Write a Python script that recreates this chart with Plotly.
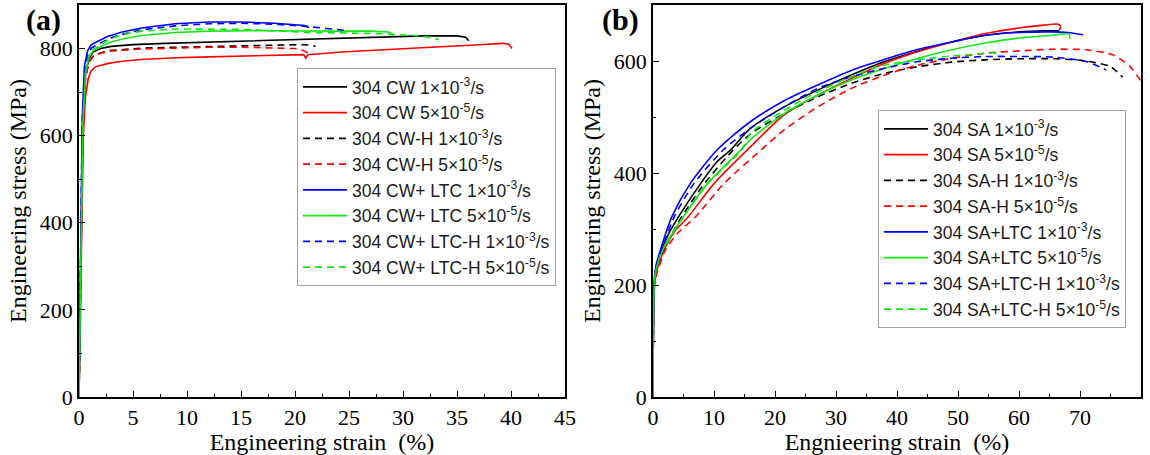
import plotly.graph_objects as go

# ---------------- Panel (a): cold-worked 304 ----------------
cw_1e3_x = [0, 0.35, 0.6, 0.9, 1.3, 2, 3, 5, 8, 12, 16, 20, 24, 28, 32, 35, 35.8, 36.1]
cw_1e3_y = [0, 620, 740, 775, 792, 800, 805, 809, 812, 815, 818, 821, 824, 827, 829, 829, 826, 818]

cw_5e5_x = [0, 0.4, 0.6, 0.85, 1.1, 1.5, 2.7, 4, 5.8, 9, 12, 15, 18.1, 20.8, 21.0, 21.2, 24.3, 27, 30.5, 33.5, 36.7, 39.3, 39.8, 40.1]
cw_5e5_y = [0, 600, 690, 730, 748, 758, 766, 771, 775, 779, 781, 783, 784, 786, 778, 786, 792, 796, 800, 804, 808, 812, 810, 800]

cwh_1e3_x = [0, 0.35, 0.6, 0.9, 1.3, 2, 2.7, 5.8, 9, 12, 15, 18.1, 20.5, 21.5, 21.9]
cwh_1e3_y = [0, 620, 730, 768, 782, 790, 795, 801, 803, 805, 807, 809, 809, 808, 805]

cwh_5e5_x = [0, 0.35, 0.6, 0.9, 1.3, 2, 2.7, 5.8, 9, 12, 15, 18.1, 20, 20.7, 21.2]
cwh_5e5_y = [0, 610, 728, 768, 782, 789, 794, 799, 801, 803, 803, 802, 800, 796, 790]

cwl_1e3_x = [0, 0.3, 0.5, 0.8, 1.1, 1.6, 2.7, 4, 5.8, 8.9, 12, 15, 18.1, 20, 20.9, 21.3]
cwl_1e3_y = [0, 640, 760, 795, 808, 815, 828, 838, 847, 857, 861, 861, 858, 855, 853, 848]

cwl_5e5_x = [0, 0.35, 0.6, 0.9, 1.3, 2, 2.7, 4, 5.8, 8.9, 12, 16, 20, 24, 27, 28.7, 29.0, 29.1]
cwl_5e5_y = [0, 630, 745, 780, 795, 805, 813, 822, 830, 837, 840, 841, 840, 840, 840, 838, 834, 828]

cwlh_1e3_x = [0, 0.3, 0.55, 0.85, 1.2, 1.8, 2.7, 4, 5.8, 8.9, 12, 15, 18, 21, 23, 24.5, 24.8]
cwlh_1e3_y = [0, 630, 755, 790, 802, 810, 822, 833, 843, 852, 857, 858, 856, 851, 846, 842, 838]

cwlh_5e5_x = [0, 0.35, 0.6, 0.9, 1.3, 2, 2.7, 4, 5.8, 8.9, 12, 15, 18, 21, 24, 28, 31, 32.8, 33.3]
cwlh_5e5_y = [0, 625, 745, 782, 797, 808, 820, 832, 840, 845, 845, 844, 841, 837, 836, 834, 830, 825, 820]

# ---------------- Panel (b): solution-annealed 304 ----------------
sa_1e3_x = [0, 0.2, 0.5, 1.4, 2.5, 4.2, 7.8, 10.5, 12.7, 16, 21.5, 27, 32.5, 38, 43.5, 49, 54.5, 60, 64, 66.6]
sa_1e3_y = [0, 200, 230, 262, 290, 322, 381, 420, 441, 480, 518, 548, 575, 599, 618, 634, 646, 652, 654, 654]

sa_5e5_x = [0, 0.2, 0.5, 1.8, 3.5, 5.8, 10, 16, 21.5, 27, 32.5, 38, 43.5, 49, 54.5, 60, 64, 66.3, 66.8, 66.6]
sa_5e5_y = [0, 195, 220, 262, 295, 322, 381, 447, 504, 539, 569, 596, 617, 634, 649, 659, 664, 666, 662, 655]

sah_1e3_x = [0, 0.2, 0.5, 1.5, 2.8, 4.5, 8, 12.7, 16, 21.5, 27, 32.5, 38, 43.5, 49, 54.5, 60, 66, 71, 75, 77]
sah_1e3_y = [0, 200, 228, 258, 285, 318, 375, 436, 470, 506, 536, 560, 578, 590, 598, 602, 604, 604, 600, 590, 571]

sah_5e5_x = [0, 0.2, 0.5, 2.0, 4, 7, 11.6, 17.7, 21.5, 27, 32.5, 38, 43.5, 49, 54.5, 60, 65.5, 71, 75.4, 78.2, 80.4]
sah_5e5_y = [0, 190, 215, 262, 292, 322, 381, 441, 477, 518, 551, 575, 593, 605, 614, 618, 621, 620, 611, 590, 557]

sal_1e3_x = [0, 0.2, 0.5, 1.2, 3.1, 6.1, 10.5, 16, 21.5, 27, 32.5, 38, 43.5, 49, 54.5, 60, 65.5, 68, 70.5]
sal_1e3_y = [0, 205, 235, 262, 322, 381, 441, 492, 529, 557, 583, 603, 621, 634, 646, 651, 652, 651, 647]

sal_5e5_x = [0, 0.2, 0.5, 1.5, 5, 8.9, 14.4, 16, 21.5, 27, 32.5, 38, 43.5, 49, 54.5, 60, 65.5, 68.2, 68.3]
sal_5e5_y = [0, 200, 228, 262, 322, 381, 441, 460, 506, 539, 566, 587, 605, 620, 632, 641, 646, 648, 640]

salh_1e3_x = [0, 0.2, 0.5, 1.3, 3.5, 6.7, 11.5, 16, 21.5, 27, 32.5, 38, 43.5, 49, 54.5, 60, 65.5, 71, 74.3]
salh_1e3_y = [0, 205, 232, 260, 322, 381, 441, 480, 518, 551, 572, 587, 599, 605, 608, 608, 607, 599, 584]

salh_5e5_x = [0, 0.2, 0.5, 1.5, 5, 9, 14.5, 16, 21.5, 27, 32.5, 38, 43.5, 49, 52.9, 55.5, 56.2, 56.3]
salh_5e5_y = [0, 200, 228, 260, 322, 381, 441, 471, 512, 545, 572, 593, 602, 609, 612, 615, 613, 607]

BLACK, RED, BLUE, GREEN = "#000000", "#ff0000", "#0000ff", "#14e614"
DASH = "7px,5px"

panel_a = [
    ("304 CW 1×10<sup>-3</sup>/s", cw_1e3_x, cw_1e3_y, BLACK, "solid"),
    ("304 CW 5×10<sup>-5</sup>/s", cw_5e5_x, cw_5e5_y, RED, "solid"),
    ("304 CW-H 1×10<sup>-3</sup>/s", cwh_1e3_x, cwh_1e3_y, BLACK, DASH),
    ("304 CW-H 5×10<sup>-5</sup>/s", cwh_5e5_x, cwh_5e5_y, RED, DASH),
    ("304 CW+ LTC 1×10<sup>-3</sup>/s", cwl_1e3_x, cwl_1e3_y, BLUE, "solid"),
    ("304 CW+ LTC 5×10<sup>-5</sup>/s", cwl_5e5_x, cwl_5e5_y, GREEN, "solid"),
    ("304 CW+ LTC-H 1×10<sup>-3</sup>/s", cwlh_1e3_x, cwlh_1e3_y, BLUE, DASH),
    ("304 CW+ LTC-H 5×10<sup>-5</sup>/s", cwlh_5e5_x, cwlh_5e5_y, GREEN, DASH),
]
panel_b = [
    ("304 SA 1×10<sup>-3</sup>/s", sa_1e3_x, sa_1e3_y, BLACK, "solid"),
    ("304 SA 5×10<sup>-5</sup>/s", sa_5e5_x, sa_5e5_y, RED, "solid"),
    ("304 SA-H 1×10<sup>-3</sup>/s", sah_1e3_x, sah_1e3_y, BLACK, DASH),
    ("304 SA-H 5×10<sup>-5</sup>/s", sah_5e5_x, sah_5e5_y, RED, DASH),
    ("304 SA+LTC 1×10<sup>-3</sup>/s", sal_1e3_x, sal_1e3_y, BLUE, "solid"),
    ("304 SA+LTC 5×10<sup>-5</sup>/s", sal_5e5_x, sal_5e5_y, GREEN, "solid"),
    ("304 SA+LTC-H 1×10<sup>-3</sup>/s", salh_1e3_x, salh_1e3_y, BLUE, DASH),
    ("304 SA+LTC-H 5×10<sup>-5</sup>/s", salh_5e5_x, salh_5e5_y, GREEN, DASH),
]

fig = go.Figure()
for name, x, y, c, d in panel_a:
    fig.add_trace(go.Scatter(x=x, y=y, name=name, mode="lines",
                             line=dict(color=c, dash=d, width=1.6),
                             xaxis="x", yaxis="y", legend="legend"))
for name, x, y, c, d in panel_b:
    # smooth hardening curves
    fig.add_trace(go.Scatter(x=x, y=y, name=name, mode="lines",
                             line=dict(color=c, dash=d, width=1.6,
                                       shape="spline", smoothing=0.7),
                             xaxis="x2", yaxis="y2", legend="legend2"))

W, H = 1150, 455
SERIF = "Liberation Serif"
SANS = "Liberation Sans"

def px_x(p):
    return p / W

def px_y(p):
    return 1 - p / H

axis_common = dict(
    showline=True, linecolor="black", linewidth=1.5, mirror=True,
    ticks="inside", ticklen=6, tickwidth=1.3, tickcolor="black",
    showgrid=False, zeroline=False, automargin=False,
    tickfont=dict(family=SERIF, size=22, color="black"),
)
title_font = dict(family=SERIF, size=24, color="black")
legend_style = dict(xanchor="left", yanchor="top", bgcolor="white",
                    bordercolor="#a0a0a0", borderwidth=1,
                    font=dict(family=SANS, size=17.5, color="#1a1a1a"),
                    itemwidth=44, tracegroupgap=0)

fig.update_layout(
    width=W, height=H,
    margin=dict(l=0, r=0, t=0, b=0, autoexpand=False),
    paper_bgcolor="white", plot_bgcolor="white",
    showlegend=True,
    xaxis=dict(domain=[px_x(79), px_x(565)], range=[0, 45], dtick=5,
               minor=dict(dtick=2.5, ticks="inside", ticklen=3, tickcolor="black"),
               title=dict(text="Engineering strain  (%)", standoff=4, font=title_font),
               anchor="y", **axis_common),
    yaxis=dict(domain=[px_y(397), px_y(5)], range=[0, 900], dtick=200,
               minor=dict(dtick=100, ticks="inside", ticklen=3, tickcolor="black"),
               title=dict(text="Engineering stress (MPa)", standoff=6, font=title_font),
               anchor="x", **axis_common),
    xaxis2=dict(domain=[px_x(653), px_x(1141)], range=[0, 80], dtick=10,
                minor=dict(dtick=5, ticks="inside", ticklen=3, tickcolor="black"),
                title=dict(text="Engnieering strain  (%)", standoff=4, font=title_font),
                anchor="y2", **axis_common),
    yaxis2=dict(domain=[px_y(397), px_y(5)], range=[0, 700], dtick=200,
                minor=dict(dtick=100, ticks="inside", ticklen=3, tickcolor="black"),
                title=dict(text="Engineering stress (MPa)", standoff=6, font=title_font),
                anchor="x2", **axis_common),
    legend=dict(x=px_x(297), y=px_y(68), **legend_style),
    legend2=dict(x=px_x(878), y=px_y(110), **legend_style),
    annotations=[
        dict(text="<b>(a)</b>", x=px_x(43), y=px_y(20), xref="paper", yref="paper",
             xanchor="center", yanchor="middle", showarrow=False,
             font=dict(family=SERIF, size=30, color="black")),
        dict(text="<b>(b)</b>", x=px_x(620), y=px_y(20), xref="paper", yref="paper",
             xanchor="center", yanchor="middle", showarrow=False,
             font=dict(family=SERIF, size=30, color="black")),
    ],
)

fig.write_html("out.html")
